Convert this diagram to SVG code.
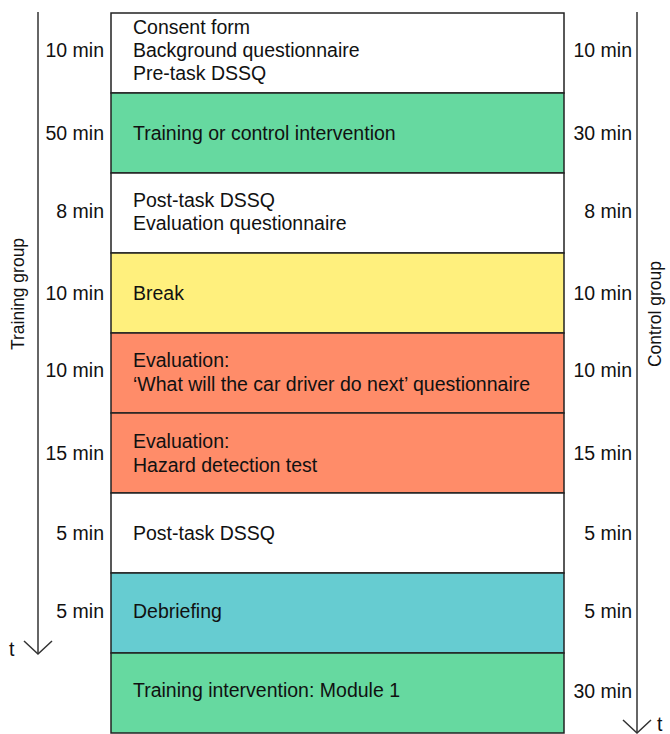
<svg xmlns="http://www.w3.org/2000/svg" width="670" height="734" viewBox="0 0 670 734">
<style>
text{font-family:"Liberation Sans",Arial,sans-serif;font-size:19.5px;fill:#111}
.r{text-anchor:end}
.v{font-size:17.5px;text-anchor:middle}
.box{stroke:#222;stroke-width:1.5}
.ax{stroke:#333;stroke-width:1.5;fill:none}
</style>
<rect width="670" height="734" fill="#fff"/>
<g id="connectors">
<line class="ax" x1="38" y1="12" x2="38" y2="654"/>
<polyline class="ax" points="24,641 38,654 52,641"/>
<line class="ax" x1="637" y1="12" x2="637" y2="733"/>
<polyline class="ax" points="623,720 637,733 651,720"/>
</g>
<g id="axis-labels">
<text x="9" y="656">t</text>
<text x="657" y="731">t</text>
<text class="v" transform="translate(24,294) rotate(-90)">Training group</text>
<text class="v" transform="translate(661,314) rotate(-90)">Control group</text>
</g>
<g id="row1"><rect class="box" x="111" y="13" width="453" height="80" fill="#fff"/>
<text x="133" y="34">Consent form</text><text x="133" y="57">Background questionnaire</text><text x="133" y="80">Pre-task DSSQ</text>
<text class="r" x="104" y="57">10 min</text><text class="r" x="632" y="57">10 min</text></g>
<g id="row2"><rect class="box" x="111" y="93" width="453" height="80" fill="#66d9a0"/>
<text x="133" y="140">Training or control intervention</text>
<text class="r" x="104" y="140">50 min</text><text class="r" x="632" y="140">30 min</text></g>
<g id="row3"><rect class="box" x="111" y="173" width="453" height="80" fill="#fff"/>
<text x="133" y="207">Post-task DSSQ</text><text x="133" y="230">Evaluation questionnaire</text>
<text class="r" x="104" y="218">8 min</text><text class="r" x="632" y="218">8 min</text></g>
<g id="row4"><rect class="box" x="111" y="253" width="453" height="80" fill="#fff07d"/>
<text x="133" y="300">Break</text>
<text class="r" x="104" y="300">10 min</text><text class="r" x="632" y="300">10 min</text></g>
<g id="row5"><rect class="box" x="111" y="333" width="453" height="80" fill="#ff8c69"/>
<text x="133" y="367">Evaluation:</text><text x="133" y="391">‘What will the car driver do next’ questionnaire</text>
<text class="r" x="104" y="377">10 min</text><text class="r" x="632" y="377">10 min</text></g>
<g id="row6"><rect class="box" x="111" y="413" width="453" height="80" fill="#ff8c69"/>
<text x="133" y="448">Evaluation:</text><text x="133" y="472">Hazard detection test</text>
<text class="r" x="104" y="460">15 min</text><text class="r" x="632" y="460">15 min</text></g>
<g id="row7"><rect class="box" x="111" y="493" width="453" height="80" fill="#fff"/>
<text x="133" y="540">Post-task DSSQ</text>
<text class="r" x="104" y="540">5 min</text><text class="r" x="632" y="540">5 min</text></g>
<g id="row8"><rect class="box" x="111" y="573" width="453" height="80" fill="#66ccd1"/>
<text x="133" y="618">Debriefing</text>
<text class="r" x="104" y="618">5 min</text><text class="r" x="632" y="618">5 min</text></g>
<g id="row9"><rect class="box" x="111" y="653" width="453" height="80" fill="#66d9a0"/>
<text x="133" y="697">Training intervention: Module 1</text>
<text class="r" x="632" y="698">30 min</text></g>
</svg>
